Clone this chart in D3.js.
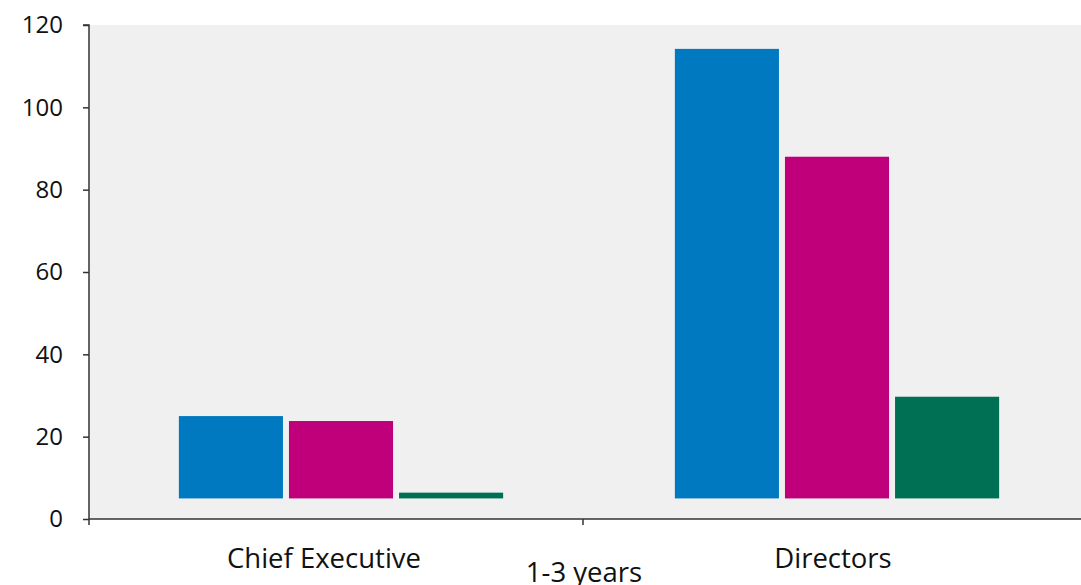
<!DOCTYPE html>
<html><head><meta charset="utf-8">
<script src="https://cdn.jsdelivr.net/npm/d3@7"></script>
<style>body{margin:0;background:#fff;} svg{display:block;}</style>
</head><body>
<svg id="c" width="1081" height="585"></svg>
<script>
const categories = ["Chief Executive", "Directors"];
const seriesNames = ["A", "B", "C"];
const seriesColors = ["#0079C1", "#C0007A", "#007055"];
const baseValue = 5;
const seriesA = [25, 114.2];
const seriesB = [23.8, 88];
const seriesC = [6.4, 29.7];
const yTicks = [0, 20, 40, 60, 80, 100, 120];
const groupTitle = "1-3 years";

const svg = d3.select("#c");
const mLeft = 89, mRight = 1081, mTop = 25, mBottom = 519;
const y = d3.scaleLinear().domain([0, 120]).range([mBottom, mTop]);
const x = d3.scaleBand().domain(categories).range([mLeft, mRight]).paddingInner(0).paddingOuter(0);
const xs = d3.scaleBand().domain(seriesNames).range([0, x.bandwidth()]).paddingInner(0.0545).paddingOuter(0.78);

svg.append("rect").attr("x", mLeft).attr("y", mTop).attr("width", mRight - mLeft).attr("height", mBottom - mTop).attr("fill", "#F0F0F0");

const values = [seriesA, seriesB, seriesC];
categories.forEach((cat, ci) => {
  seriesNames.forEach((s, si) => {
    svg.append("rect")
      .attr("x", x(cat) + xs(s) + 4)
      .attr("y", y(values[si][ci]))
      .attr("width", xs.bandwidth())
      .attr("height", y(baseValue) - y(values[si][ci]))
      .attr("fill", seriesColors[si]);
  });
});

const font = "'Open Sans', sans-serif";
const yAxis = svg.append("g").attr("transform", `translate(${mLeft},0)`)
  .call(d3.axisLeft(y).tickValues(yTicks).tickSize(6).tickPadding(20));
yAxis.select(".domain").attr("stroke", "#333").attr("stroke-width", 1.5).attr("d", `M-6,${mTop}H0V${mBottom}`);
yAxis.selectAll(".tick line").attr("stroke", "#333").attr("stroke-width", 1.5);
yAxis.selectAll(".tick text").attr("font-family", font).attr("font-size", 24).attr("fill", "#111").attr("dy", "0.32em");

const xAxis = svg.append("g").attr("transform", `translate(0,${mBottom})`);
xAxis.append("line").attr("x1", mLeft).attr("x2", mRight).attr("y1", 0).attr("y2", 0).attr("stroke", "#333").attr("stroke-width", 1.5);
const sepX = x(categories[1]) - 2;
[mLeft, sepX].forEach(px => {
  xAxis.append("line").attr("x1", px).attr("x2", px).attr("y1", 0).attr("y2", 6).attr("stroke", "#333").attr("stroke-width", 1.5);
});
categories.forEach((cat, i) => {
  xAxis.append("text").attr("x", x(cat) + x.bandwidth() / 2 + (i === 0 ? -13 : 0)).attr("y", 49)
    .attr("text-anchor", "middle").attr("font-family", font).attr("font-size", 27.5).attr("fill", "#111").text(cat);
});
svg.append("text").attr("x", sepX + 1).attr("y", 582).attr("text-anchor", "middle")
  .attr("font-family", font).attr("font-size", 27.5).attr("fill", "#111").text(groupTitle);
</script>
</body></html>
